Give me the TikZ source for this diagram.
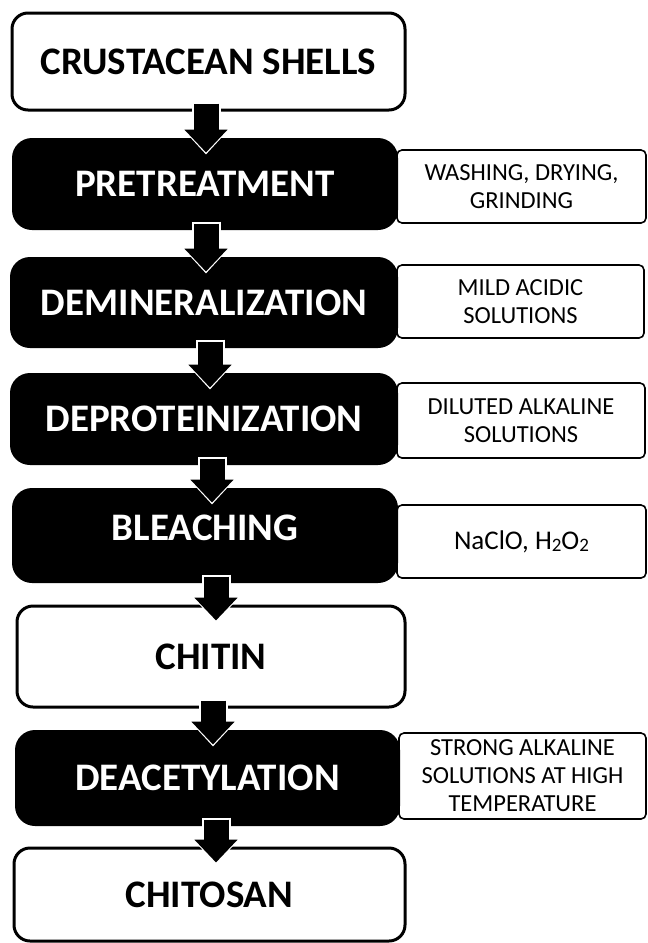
\documentclass[tikz,border=0pt]{standalone}
\usepackage{fontspec}
\setmainfont{Carlito}
\usetikzlibrary{arrows.meta,calc}
\newcommand{\lowtwo}{\raisebox{-2pt}{\fontsize{19}{19}\selectfont 2}}
\tikzset{
  stage/.style={draw=black, line width=3pt, rounded corners=16pt, fill=white,
    font=\bfseries\fontsize{39}{44}\selectfont, align=center, inner sep=0pt},
  darkstage/.style={stage, draw=none, fill=black, text=white, rounded corners=20pt},
  note/.style={draw=black, line width=1.6pt, rounded corners=5pt, fill=white,
    font=\fontsize{24.5}{28}\selectfont, align=center, inner sep=0pt},
  flowhalo/.style={draw=white, line width=29pt, shorten <=-10pt, shorten >=-18pt,
    -{Triangle[length=27pt,width=48pt]}},
  flowbody/.style={draw=black, line width=25pt, shorten <=-8pt, shorten >=-16pt,
    -{Triangle[length=23pt,width=42pt]}},
}
\begin{document}
\begin{tikzpicture}[x=1pt,y=-1pt]
        \useasboundingbox (0,0) rectangle (648,943);
        % condizioni (a destra)
        \node[note, minimum width=249pt, minimum height=73pt] (washing) at (521.5,186.5) {WASHING, DRYING,\\GRINDING};
        \node[note, minimum width=247pt, minimum height=73pt] (acidic) at (520.5,301.5) {MILD ACIDIC\\SOLUTIONS};
        \node[note, minimum width=248pt, minimum height=75pt] (alkaline) at (521,420.5) {DILUTED ALKALINE\\SOLUTIONS};
        \node[note, minimum width=249pt, minimum height=73pt, font=\fontsize{27}{30}\selectfont] (oxidant) at (521.5,541.5) {NaClO, H\lowtwo O\lowtwo};
        \node[note, minimum width=247pt, minimum height=86pt] (strong) at (522.5,776) {STRONG ALKALINE\\SOLUTIONS AT HIGH\\TEMPERATURE};
        % fasi del processo
        \node[stage, minimum width=393pt, minimum height=97pt] (shells) at (208.5,61.5) {CRUSTACEAN SHELLS};
        \node[darkstage, minimum width=386pt, minimum height=92pt] (pretreat) at (205,184) {PRETREATMENT};
        \node[darkstage, minimum width=388pt, minimum height=91pt] (demin) at (204,302.5) {DEMINERALIZATION};
        \node[darkstage, minimum width=388pt, minimum height=92pt] (deprot) at (204,419) {DEPROTEINIZATION};
        \node[darkstage, minimum width=386pt, minimum height=95pt] (bleach) at (205,535.5) {\raisebox{8pt}[\height][\depth]{BLEACHING}};
        \node[stage, minimum width=388pt, minimum height=101pt] (chitin) at (211,656.5) {CHITIN};
        \node[darkstage, minimum width=385pt, minimum height=96pt] (deacet) at (207.5,778) {DEACETYLATION};
        \node[stage, minimum width=391pt, minimum height=93pt] (chitosan) at (209.5,894.5) {CHITOSAN};
        % frecce
        \foreach \a/\b/\dx in {shells/pretreat/-2.5, pretreat/demin/1, demin/deprot/6,
            deprot/bleach/8, bleach/chitin/11, chitin/deacet/2, deacet/chitosan/8.5}{
          \draw[flowhalo] ($(\a.south)+(\dx,0)$) -- ($(\a.south |- \b.north)+(\dx,0)$);
          \draw[flowbody] ($(\a.south)+(\dx,0)$) -- ($(\a.south |- \b.north)+(\dx,0)$);
        }
    \end{tikzpicture}
\end{document}
